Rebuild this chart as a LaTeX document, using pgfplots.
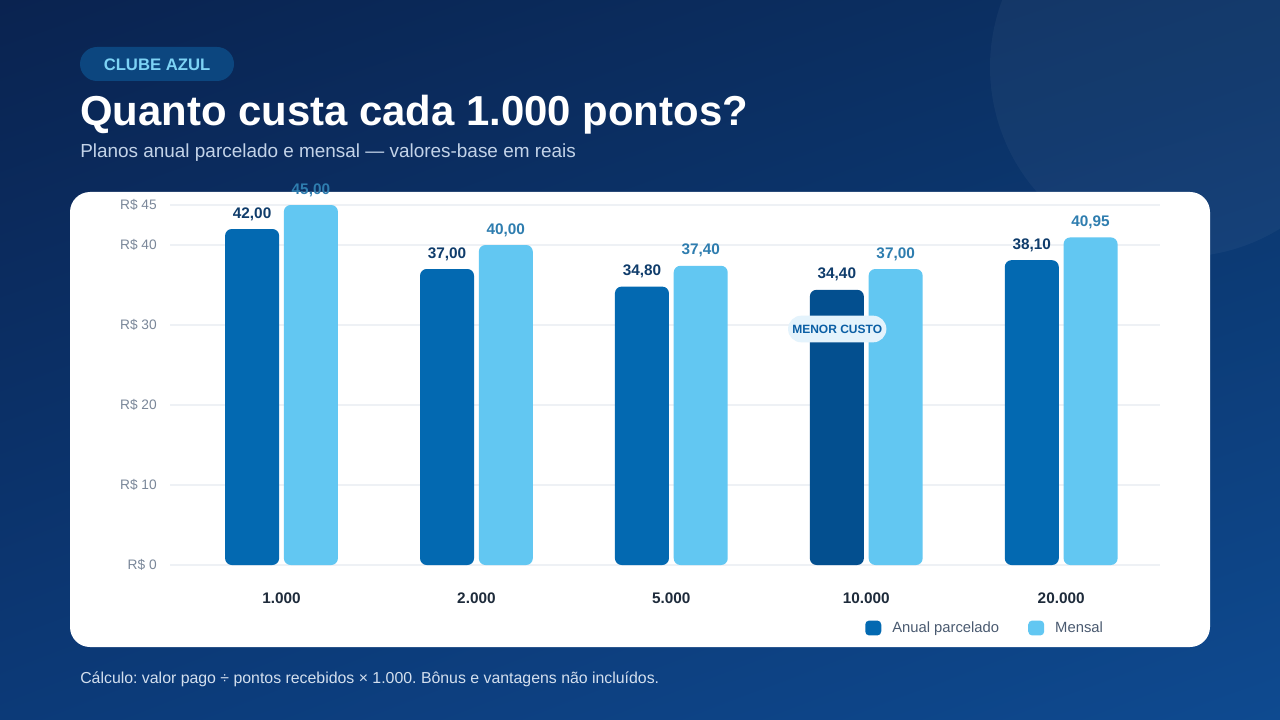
\documentclass[border=0pt]{standalone}
\usepackage{pgfplots}
\pgfplotsset{compat=1.18}
\usetikzlibrary{shadings}
\usepackage{fontspec}
\setmainfont{Liberation Sans}
\frenchspacing
\definecolor{bgUL}{HTML}{0A2350}
\definecolor{bgUR}{HTML}{0B3266}
\definecolor{bgLL}{HTML}{0C3A78}
\definecolor{bgLR}{HTML}{0E4A90}
\definecolor{pillc}{HTML}{0C467F}
\definecolor{pilltext}{HTML}{7DD3F5}
\definecolor{subc}{HTML}{C3D3E8}
\definecolor{footc}{HTML}{D3DFEE}
\definecolor{anual}{HTML}{0369B1}
\definecolor{anualdark}{HTML}{034F8F}
\definecolor{mensal}{HTML}{62C7F2}
\definecolor{anuallab}{HTML}{0F3C6B}
\definecolor{mensallab}{HTML}{2E7DAF}
\definecolor{gridc}{HTML}{EEF1F5}
\definecolor{tickc}{HTML}{7A8799}
\definecolor{catc}{HTML}{1E2B3B}
\definecolor{legc}{HTML}{4A5A70}
\definecolor{badgefill}{HTML}{E4F3FC}
\definecolor{badgetext}{HTML}{0B5FA5}
\begin{document}
\begin{tikzpicture}
\begin{scope}[x=0.75pt,y=-0.75pt]
\useasboundingbox (0,0) rectangle (1280,720);
\shade[upper left=bgUL, upper right=bgUR, lower left=bgLL, lower right=bgLR] (0,0) rectangle (1280,720);
\begin{scope}
\clip (0,0) rectangle (1280,720);
\fill[white, fill opacity=0.04] (1180,67) circle[radius=142.5pt];
\end{scope}
\fill[white, rounded corners=15pt] (70,192) rectangle (1210,647);
\fill[pillc, rounded corners=12.75pt] (80,47) rectangle (234,81);
\node[text=pilltext, font=\fontsize{12.5pt}{15pt}\selectfont\bfseries] at (157,64.5) {CLUBE AZUL};
\node[anchor=base west, inner sep=0pt, text=white, font=\fontsize{31.4pt}{36pt}\selectfont\bfseries] at (80,126) {Quanto custa cada 1.000 pontos?};
\node[anchor=base west, inner sep=0pt, text=subc, font=\fontsize{14.2pt}{17pt}\selectfont] at (80,158) {Planos anual parcelado e mensal — valores-base em reais};
\node[anchor=base west, inner sep=0pt, text=footc, font=\fontsize{11.9pt}{14pt}\selectfont] at (80,683) {Cálculo: valor pago ÷ pontos recebidos × 1.000. Bônus e vantagens não incluídos.};
\end{scope}
\begin{axis}[
  at={(127.5pt,-423.75pt)}, anchor=south west,
  width=742.5pt, height=270pt, scale only axis,
  xmin=-0.572, xmax=4.507, ymin=0, ymax=45,
  clip=false,
  axis line style={draw=none},
  major tick length=0pt,
  ymajorgrids, grid style={color=gridc, line width=1.2pt},
  ytick={0,10,20,30,40,45},
  yticklabels={R\$ 0,R\$ 10,R\$ 20,R\$ 30,R\$ 40,R\$ 45},
  yticklabel style={anchor=east, inner sep=0pt, xshift=-9.75pt, text=tickc, font=\fontsize{10.3pt}{12pt}\selectfont},
  xtick={0,1,2,3,4},
  xticklabels={1.000,2.000,5.000,10.000,20.000},
  xticklabel style={anchor=base, inner sep=0pt, yshift=-28.5pt, text=catc, font=\fontsize{11.5pt}{14pt}\selectfont\bfseries},
  /pgf/number format/.cd, fixed, fixed zerofill, precision=2, use comma, 1000 sep={}, assume math mode=true,
  /pgfplots/.cd,
  legend style={at={(0.702,-0.175)}, anchor=west, draw=none, fill=none, inner sep=0pt, legend columns=2,
     nodes={inner sep=0pt, text=legc, font=\fontsize{11.1pt}{14pt}\selectfont}},
  legend cell align=left,
]
\addplot[ybar, bar width=40.5pt, bar shift=-22.05pt, fill=anual, draw=none, rounded corners=5pt,
  nodes near coords, every node near coord/.append style={anchor=base, xshift=-22.05pt, yshift=8.25pt, text=anuallab, font=\fontsize{11.5pt}{14pt}\selectfont\bfseries},
  legend image code/.code={\fill[anual, rounded corners=3pt] (0pt,-5.6pt) rectangle (12pt,5.6pt); \path (20.25pt,0pt);}]
  coordinates {(0,42) (1,37) (2,34.8) (4,38.1)};
\addlegendentry{Anual parcelado\rule{21.75pt}{0pt}}
\addplot[ybar, bar width=40.5pt, bar shift=22.05pt, fill=mensal, draw=none, rounded corners=5pt,
  nodes near coords, every node near coord/.append style={anchor=base, xshift=22.05pt, yshift=8.25pt, text=mensallab, font=\fontsize{11.5pt}{14pt}\selectfont\bfseries},
  legend image code/.code={\fill[mensal, rounded corners=3pt] (0pt,-5.6pt) rectangle (12pt,5.6pt); \path (20.25pt,0pt);}]
  coordinates {(0,45) (1,40) (2,37.4) (3,37) (4,40.95)};
\addlegendentry{Mensal}
\addplot[ybar, forget plot, bar width=40.5pt, bar shift=-22.05pt, fill=anualdark, draw=none, rounded corners=5pt,
  nodes near coords, every node near coord/.append style={anchor=base, xshift=-22.05pt, yshift=8.25pt, text=anuallab, font=\fontsize{11.5pt}{14pt}\selectfont\bfseries}]
  coordinates {(3,34.4)};
\node[fill=badgefill, text=badgetext, rounded corners=10pt, minimum height=20pt, inner xsep=3.2pt, inner ysep=0pt,
  font=\fontsize{9pt}{11pt}\selectfont\bfseries] at (axis cs:2.851,29.5) {MENOR CUSTO};
\end{axis}
\end{tikzpicture}
\end{document}
